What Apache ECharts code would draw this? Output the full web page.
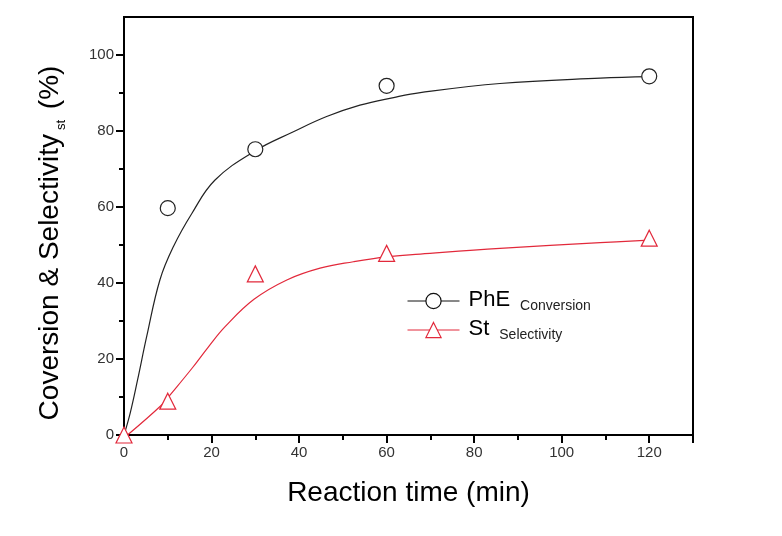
<!DOCTYPE html>
<html>
<head>
<meta charset="utf-8">
<script src="https://cdn.jsdelivr.net/npm/echarts@6/dist/echarts.min.js"></script>
<style>html,body{margin:0;padding:0;background:#fff;}#c{width:782px;height:536px;}</style>
</head>
<body>
<div id="c"></div>
<script>
// measured points
var timePts = [10, 30, 60, 120];
var convPts = [59.7, 75.2, 91.9, 94.4];
var selTime = [0, 10, 30, 60, 120];
var selPts = [0, 8.9, 42.4, 47.8, 51.8];
// fitted curves
var convFitT = [0, 1.4, 3.1, 5.2, 8.2, 11.3, 15.5, 20.8, 30, 38.7, 46.3, 53.9, 61.6, 67.7, 85.9, 108.8, 120];
var convFitY = [0, 5.7, 14.5, 26, 40.8, 49.6, 58.3, 67.1, 74.8, 79.8, 83.8, 86.8, 88.8, 90.1, 92.5, 93.9, 94.3];
var selFitT = [0.8, 8.6, 10.5, 15.5, 19.3, 23.1, 29.7, 37.2, 44.8, 52.4, 60, 67.7, 85.9, 108.8, 120];
var selFitY = [0, 7.9, 10.5, 17.5, 23.2, 28.5, 35.7, 40.8, 43.9, 45.6, 46.9, 47.6, 49.1, 50.6, 51.3];
// tick labels
var xTicks = [0, 20, 40, 60, 80, 100, 120];
var yTicks = [0, 20, 40, 60, 80, 100];

function zip(a, b) { return a.map(function (v, i) { return [v, b[i]]; }); }

var RED = '#e2293b';
var FONT = 'Liberation Sans';
var chart = echarts.init(document.getElementById('c'));
chart.setOption({
  animation: false,
  backgroundColor: '#fff',
  textStyle: { fontFamily: FONT },
  grid: { left: 124, right: 89, top: 17, bottom: 101, show: true, borderColor: '#000', borderWidth: 2, backgroundColor: 'transparent' },
  xAxis: {
    type: 'value', min: 0, max: 130, interval: 20,
    name: 'Reaction time (min)', nameLocation: 'middle', nameGap: 44,
    nameTextStyle: { fontSize: 28, color: '#000', fontFamily: FONT },
    axisLine: { show: true, lineStyle: { color: '#000', width: 2 } },
    axisTick: { show: true, length: 8, lineStyle: { color: '#000', width: 2 } },
    minorTick: { show: true, splitNumber: 2, length: 5, lineStyle: { color: '#000', width: 2 } },
    axisLabel: { fontSize: 15, color: '#333', margin: 10, customValues: xTicks, fontFamily: FONT },
    splitLine: { show: false }
  },
  yAxis: {
    type: 'value', min: 0, max: 110, interval: 20,
    name: '{m|Coversion & Selectivity}{s|st}{m| (%)}', nameLocation: 'middle', nameGap: 56,
    nameTextStyle: { color: '#000', fontFamily: FONT, padding: [0, 34, 0, 0], rich: {
      m: { fontSize: 28, fontFamily: FONT, color: '#000', lineHeight: 32, padding: [0, 0, 6, 0], verticalAlign: 'top' },
      s: { fontSize: 13, fontFamily: FONT, color: '#000', padding: [0, 3, 0, 4], lineHeight: 14, verticalAlign: 'bottom' }
    } },
    axisLine: { show: true, lineStyle: { color: '#000', width: 2 } },
    axisTick: { show: true, length: 8, customValues: yTicks, lineStyle: { color: '#000', width: 2 } },
    minorTick: { show: true, splitNumber: 2, length: 5, lineStyle: { color: '#000', width: 2 } },
    axisLabel: { fontSize: 15, color: '#333', margin: 10, customValues: yTicks, fontFamily: FONT },
    splitLine: { show: false }
  },
  legend: {
    orient: 'vertical', left: 402, top: 284, itemWidth: 52, itemHeight: 19, itemGap: 0,
    data: [
      { name: 'PhE', itemStyle: { color: '#fff', borderColor: '#111', borderWidth: 1.2 }, lineStyle: { color: '#111', width: 1, opacity: 1 } },
      { name: 'St', itemStyle: { color: '#fff', borderColor: RED, borderWidth: 1.2 }, lineStyle: { color: RED, width: 1, opacity: 1 } }
    ],
    formatter: function (n) { return n === 'PhE' ? '{m|PhE}{s|Conversion}' : '{m|St}{s|Selectivity}'; },
    textStyle: { fontFamily: FONT, rich: {
      m: { fontSize: 22, color: '#000', fontFamily: FONT, lineHeight: 24, padding: [0, 0, 7, 4], verticalAlign: 'top' },
      s: { fontSize: 14, color: '#222', fontFamily: FONT, lineHeight: 14, padding: [0, 0, 0, 10], verticalAlign: 'bottom' }
    } }
  },
  series: [
    { name: 'convFit', type: 'line', data: zip(convFitT, convFitY), showSymbol: false, smooth: 0.4,
      lineStyle: { color: '#222', width: 1.2 }, silent: true, z: 2 },
    { name: 'selFit', type: 'line', data: zip(selFitT, selFitY), showSymbol: false, smooth: 0.4,
      lineStyle: { color: RED, width: 1.2 }, silent: true, z: 2 },
    { name: 'PhE', type: 'line', data: zip(timePts, convPts), symbol: 'circle', symbolSize: 15, showSymbol: true,
      itemStyle: { color: '#fff', borderColor: '#222', borderWidth: 1.2 },
      lineStyle: { color: '#222', width: 1, opacity: 0 }, z: 3 },
    { name: 'St', type: 'line', data: zip(selTime, selPts), symbol: 'triangle', symbolSize: 16, showSymbol: true,
      itemStyle: { color: '#fff', borderColor: RED, borderWidth: 1.2 },
      lineStyle: { color: RED, width: 1, opacity: 0 }, z: 3 }
  ]
});
</script>
</body>
</html>
